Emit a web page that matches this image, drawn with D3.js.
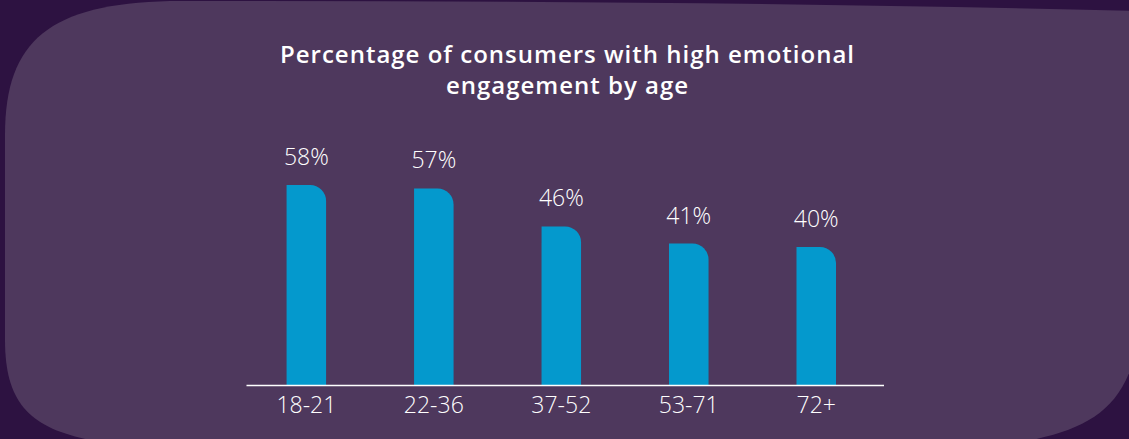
<!DOCTYPE html>
<html>
<head>
<meta charset="utf-8">
<script src="https://cdn.jsdelivr.net/npm/d3@7"></script>
<style>
  html, body { margin: 0; padding: 0; background: #2d1241; }
  svg { display: block; }
</style>
</head>
<body>
<svg id="chart" width="1129" height="439"></svg>
<script>
const categories = ["18-21", "22-36", "37-52", "53-71", "72+"];
const values = [58, 57, 46, 41, 40];
const valueLabels = ["58%", "57%", "46%", "41%", "40%"];
const titleLines = ["Percentage of consumers with high emotional", "engagement by age"];

const W = 1129, H = 439;
const svg = d3.select("#chart");

// background blob
svg.append("rect").attr("width", W).attr("height", H).attr("fill", "#2d1241");
svg.append("path")
  .attr("d", "M5,340 L5,135 C5,40 50,4 170,1 Q700,0 1140,11 L1140,330 C1128,415 1085,432 1000,446 L130,446 C40,436 5,415 5,340 Z")
  .attr("fill", "#4e385d");

const x = d3.scaleBand().domain(categories).range([242.6, 880]).paddingInner(0.69).paddingOuter(0.345);
const y = d3.scaleLinear().domain([0, 58]).range([385, 185]);

const r = 16;
function barPath(cx, top, bottom, w) {
  const x0 = cx - w / 2, x1 = cx + w / 2;
  const rr = Math.min(r, bottom - top);
  return `M${x0},${bottom} L${x0},${top} L${x1 - rr},${top} A${rr},${rr} 0 0 1 ${x1},${top + rr} L${x1},${bottom} Z`;
}

const g = svg.append("g");
g.selectAll("path.bar").data(categories).join("path")
  .attr("class", "bar")
  .attr("fill", "#0499cd")
  .attr("d", (c, i) => barPath(x(c) + x.bandwidth() / 2, y(values[i]), y(0), x.bandwidth()));

g.selectAll("text.val").data(categories).join("text")
  .attr("class", "val")
  .attr("x", c => x(c) + x.bandwidth() / 2)
  .attr("y", (c, i) => y(values[i]) - 20)
  .attr("text-anchor", "middle")
  .attr("fill", "#ffffff")
  .attr("font-family", "'Open Sans', sans-serif")
  .attr("font-weight", 300)
  .attr("font-size", 23)
  .text((c, i) => valueLabels[i]);

// axis
const axis = svg.append("g").attr("transform", `translate(0,${y(0)})`)
  .call(d3.axisBottom(x).tickSize(0).tickPadding(12));
axis.select(".domain").attr("d", "M246.5,0.5H884").attr("stroke", "#ffffff").attr("stroke-width", 1.5);
axis.selectAll("text")
  .attr("fill", "#ffffff")
  .attr("font-family", "'Open Sans', sans-serif")
  .attr("font-weight", 300)
  .attr("font-size", 23);

// title
svg.selectAll("text.title").data(titleLines).join("text")
  .attr("class", "title")
  .attr("x", 567.5)
  .attr("y", (d, i) => 63 + i * 31)
  .attr("text-anchor", "middle")
  .attr("fill", "#ffffff")
  .attr("font-family", "'Open Sans', sans-serif")
  .attr("font-weight", 600)
  .attr("font-size", 24)
  .attr("letter-spacing", 1)
  .text(d => d);
</script>
</body>
</html>
